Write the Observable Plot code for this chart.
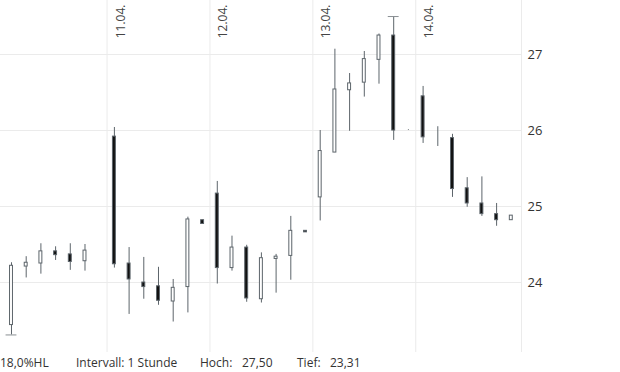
<!DOCTYPE html>
<html>
<head>
<meta charset="utf-8">
<script src="https://cdn.jsdelivr.net/npm/d3@7"></script>
<script src="https://cdn.jsdelivr.net/npm/@observablehq/plot@0.6"></script>
<style>
  html, body { margin: 0; padding: 0; background: #fff; }
  #chart svg { display: block; }
  #footer { position: relative; width: 620px; height: 20px; font-family: "Open Sans", sans-serif; font-size: 12px; line-height: 20px; color: #333; }
  #footer span { position: absolute; top: 1px; white-space: nowrap; }
</style>
</head>
<body>
<div id="chart"></div>
<div id="footer"></div>
<script>
// hourly candles, 7 per trading day (10.04. – 14.04.)
const open  = [23.44,24.21,24.25,24.41,24.37,24.28,24.42, 25.92,24.25,24.00,23.95,23.75,23.94,24.82, 25.17,24.19,24.46,23.78,24.31,24.35,24.68, 25.12,25.71,26.53,26.63,26.93,27.25,26.00, 26.45,25.91,25.90,25.24,25.04,24.90,24.82];
const high  = [24.26,24.34,24.51,24.47,24.51,24.50,24.42, 26.04,24.46,24.33,24.20,24.04,24.86,24.82, 25.33,24.61,24.49,24.39,24.37,24.87,24.68, 26.00,27.07,26.75,27.04,27.27,27.50,26.01, 26.58,26.05,25.95,25.38,25.39,25.04,24.88];
const low   = [23.31,24.06,24.11,24.29,24.16,24.15,24.42, 24.19,23.58,23.78,23.70,23.48,23.60,24.77, 23.98,24.15,23.74,23.73,23.86,24.03,24.66, 24.81,25.71,25.99,26.44,26.61,25.87,26.00, 25.83,25.79,25.12,24.99,24.87,24.74,24.82];
const close = [24.22,24.26,24.41,24.36,24.27,24.42,24.42, 24.24,24.04,23.94,23.76,23.93,24.83,24.77, 24.19,24.46,23.79,24.32,24.34,24.68,24.66, 25.73,26.54,26.62,26.94,27.25,26.00,26.00, 25.91,25.91,25.23,25.04,24.90,24.82,24.88];
const dayLabels = ["11.04.", "12.04.", "13.04.", "14.04."];
const dayStarts = [7, 14, 21, 28];           // candle index where each labelled day begins
const yTicks = [24, 25, 26, 27];
const volatility = "18,0%HL";
const intervalText = "Intervall: 1 Stunde";
const highLabel = "Hoch:";
const lowLabel = "Tief:";

const candles = open.map((o, i) => ({i, open: o, high: high[i], low: low[i], close: close[i]}));
const boundaries = dayStarts.map(s => s - 0.5);
const dayData = boundaries.map((b, k) => ({x: b, label: dayLabels[k]}));

let hiIdx = 0, loIdx = 0;
candles.forEach((c, i) => { if (c.high > candles[hiIdx].high) hiIdx = i; if (c.low < candles[loIdx].low) loIdx = i; });
const extremes = [{i: hiIdx, v: candles[hiIdx].high}, {i: loIdx, v: candles[loIdx].low}];

const xDomain = [-0.748, 34.694];
const yDomain = [23.079, 27.711];
const grid = "#ebebeb";
const wick = "#5d656b";
const bw = 0.1;

const plot = Plot.plot({
  width: 620,
  height: 352,
  marginLeft: 0,
  marginRight: 99,
  marginTop: 0,
  marginBottom: 0,
  style: {fontFamily: "'Open Sans', sans-serif", background: "#fff", color: "#333"},
  x: {type: "linear", domain: xDomain, axis: null},
  y: {domain: yDomain, axis: null},
  marks: [
    Plot.ruleY(yTicks, {stroke: grid}),
    Plot.ruleX(boundaries, {stroke: grid}),
    Plot.ruleX([xDomain[1]], {stroke: grid}),
    Plot.ruleY([yDomain[0]], {stroke: grid}),
    Plot.axisY(yTicks, {anchor: "right", tickSize: 0, tickPadding: 6, fontSize: 13, tickFormat: d => String(d), fill: "#333"}),
    Plot.text(dayData, {x: "x", text: "label", frameAnchor: "top", rotate: -90, textAnchor: "end", dx: 9, dy: 4, fontSize: 12, fill: "#444"}),
    Plot.ruleX(candles, {x: "i", y1: "low", y2: "high", stroke: wick, strokeWidth: 1}),
    Plot.ruleY(extremes, {y: "v", x1: d => d.i - 0.37, x2: d => d.i + 0.37, stroke: "#8a8f93"}),
    Plot.rect(candles, {
      x1: d => d.i - bw, x2: d => d.i + bw,
      y1: "open", y2: "close",
      fill: d => d.close >= d.open ? "#fff" : "#111",
      stroke: wick, strokeWidth: 1
    })
  ]
});
document.getElementById("chart").appendChild(plot);

const fmt = v => v.toFixed(2).replace(".", ",");
const footer = document.getElementById("footer");
const items = [
  [volatility, 0],
  [intervalText, 76],
  [highLabel, 200],
  [fmt(candles[hiIdx].high), 242],
  [lowLabel, 297],
  [fmt(candles[loIdx].low), 330]
];
for (const [t, left] of items) {
  const s = document.createElement("span");
  s.textContent = t;
  s.style.left = left + "px";
  footer.appendChild(s);
}
</script>
</body>
</html>
